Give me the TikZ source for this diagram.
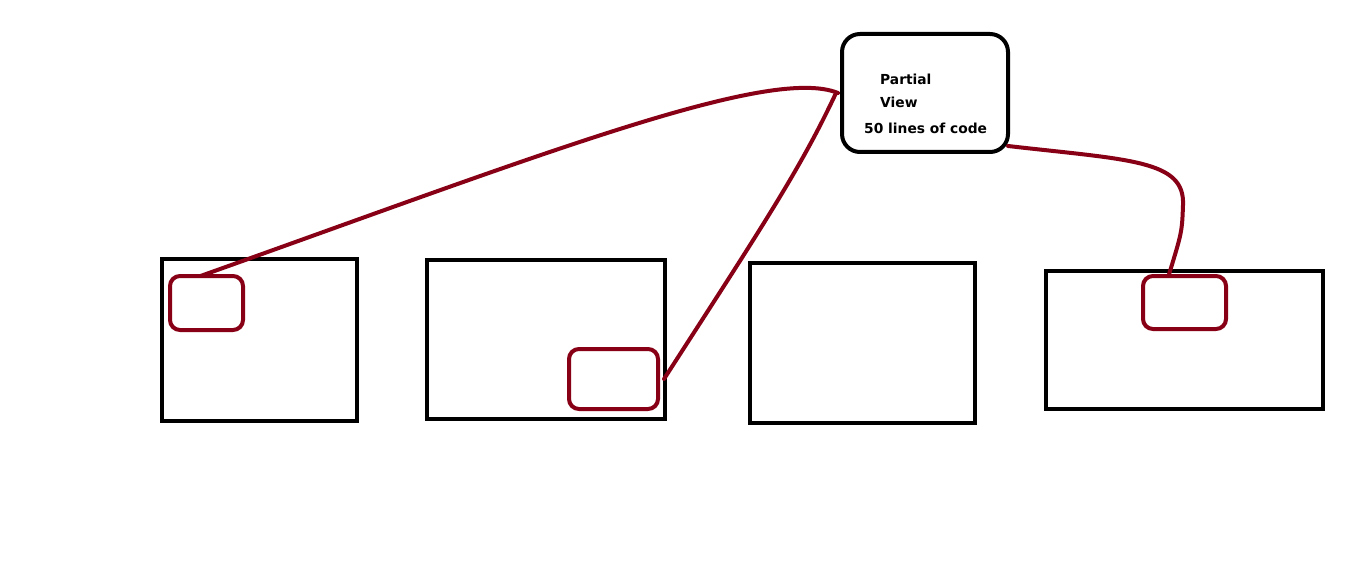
\documentclass[tikz,border=0pt]{standalone}
\usepackage{fontspec}
\setmainfont{DejaVu Sans}
\definecolor{dred}{HTML}{880015}
\begin{document}
\begin{tikzpicture}[x=1pt,y=-1pt,
  bigbox/.style={draw=black,line width=4.5pt,inner sep=0,outer sep=0,anchor=north west},
  smallbox/.style={draw=dred,line width=4pt,rounded corners=10pt,inner sep=0,outer sep=0,anchor=north west},
  viewbox/.style={draw=black,line width=4pt,rounded corners=18pt,inner sep=0,outer sep=0,anchor=north west},
  link/.style={draw=dred,line width=4pt,line cap=round},
  lbl/.style={font=\bfseries\fontsize{13.8}{16}\selectfont,anchor=west,inner sep=0}]
\useasboundingbox[fill=white] (0,0) rectangle (1356,572);
\node[bigbox,minimum width=195pt,minimum height=162pt] (b1) at (162,259) {};
\node[bigbox,minimum width=238pt,minimum height=159pt] (b2) at (427,260) {};
\node[bigbox,minimum width=225pt,minimum height=160pt] (b3) at (750,263) {};
\node[bigbox,minimum width=277pt,minimum height=138pt] (b4) at (1046,271) {};
\node[smallbox,minimum width=73pt,minimum height=54pt] (r1) at (170,276) {};
\node[smallbox,minimum width=89pt,minimum height=60pt] (r2) at (569,349) {};
\node[smallbox,minimum width=83pt,minimum height=53pt] (r4) at (1143,276) {};
\node[viewbox,minimum width=166pt,minimum height=118pt] (v) at (842,34) {};
\node[lbl] (t1) at (880,79) {Partial};
\node[lbl] (t2) at (880,102) {View};
\node[lbl] (t3) at (864,128) {50 lines of code};
\draw[link] ([xshift=-6pt]r1.north) .. controls (540,155) and (770,65) .. ([xshift=-4pt]v.west);
\draw[link] ([xshift=6pt]r2.east) .. controls (760,230) and (800,170) .. ([xshift=-6pt]v.west);
\draw[link] ([yshift=-53pt]v.east) .. controls (1130,160) and (1185,160) .. (1183,205) .. controls (1182,232) .. ([xshift=-16pt]r4.north);
\end{tikzpicture}
\end{document}
